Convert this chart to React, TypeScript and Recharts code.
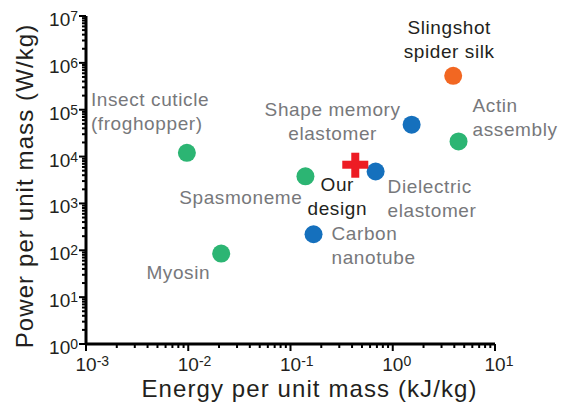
import React from "react";
import { ScatterChart, Scatter, XAxis, YAxis, Label } from "recharts";

// natural muscles / biological actuators (green)
const bioNames = ["Insect cuticle (froghopper)", "Myosin", "Spasmoneme", "Actin assembly"];
const bioEnergy = [0.0097, 0.021, 0.14, 4.4];
const bioPower = [12000, 85, 3800, 21000];

// artificial muscles (blue)
const synthNames = ["Shape memory elastomer", "Dielectric elastomer", "Carbon nanotube"];
const synthEnergy = [1.53, 0.68, 0.168];
const synthPower = [48000, 4800, 220];

// spider silk (orange)
const silkNames = ["Slingshot spider silk"];
const silkEnergy = [3.9];
const silkPower = [530000];

// this work (red cross)
const oursNames = ["Our design"];
const oursEnergy = [0.43];
const oursPower = [6700];

const xMajor = [0.001, 0.01, 0.1, 1, 10];
const yMajor = [1, 10, 100, 1e3, 1e4, 1e5, 1e6, 1e7];
const minorSteps = [2, 3, 4, 5, 6, 7, 8, 9];

const withMinor = (majors: number[]) => [
  ...majors,
  ...majors.slice(0, -1).flatMap((m) => minorSteps.map((k) => m * k)),
].sort((a, b) => a - b);

const xTicks = withMinor(xMajor);
const yTicks = withMinor(yMajor);

const toPoints = (names: string[], xs: number[], ys: number[]) =>
  names.map((name, i) => ({ name, x: xs[i], y: ys[i] }));

// where each annotation sits relative to its marker
const labelLayout: Record<string, { lines: string[]; anchor: string; dx: number; dy: number }> = {
  "Insect cuticle (froghopper)": { lines: ["Insect cuticle", "(froghopper)"], anchor: "start", dx: -96, dy: -47 },
  Myosin: { lines: ["Myosin"], anchor: "end", dx: -11, dy: 25 },
  Spasmoneme: { lines: ["Spasmoneme"], anchor: "end", dx: -3, dy: 28 },
  "Actin assembly": { lines: ["Actin", "assembly"], anchor: "start", dx: 14, dy: -29 },
  "Shape memory elastomer": { lines: ["Shape memory", "elastomer"], anchor: "middle", dx: -79, dy: -9 },
  "Dielectric elastomer": { lines: ["Dielectric", "elastomer"], anchor: "start", dx: 12, dy: 21 },
  "Carbon nanotube": { lines: ["Carbon", "nanotube"], anchor: "start", dx: 18, dy: 6 },
  "Slingshot spider silk": { lines: ["Slingshot", "spider silk"], anchor: "middle", dx: -4, dy: -42 },
  "Our design": { lines: ["Our", "design"], anchor: "middle", dx: -18, dy: 26 },
};

const FONT = "'Liberation Sans', Arial, Helvetica, sans-serif";
const INK = "#231f20";
const GREY = "#77787b";

const PointLabel = ({ cx, cy, name, color }: any) => {
  const l = labelLayout[name];
  if (!l) return null;
  return (
    <text
      x={cx + l.dx}
      y={cy + l.dy}
      textAnchor={l.anchor}
      fontSize={19}
      letterSpacing={0.6}
      fontFamily={FONT}
      fill={color}
    >
      {l.lines.map((line, i) => (
        <tspan key={i} x={cx + l.dx} dy={i === 0 ? 0 : 24}>
          {line}
        </tspan>
      ))}
    </text>
  );
};

const dot = (fill: string, labelColor: string) => (props: any) => {
  const { cx, cy, payload } = props;
  return (
    <g>
      <circle cx={cx} cy={cy} r={9} fill={fill} />
      <PointLabel cx={cx} cy={cy} name={payload.name} color={labelColor} />
    </g>
  );
};

const cross = (props: any) => {
  const { cx, cy, payload } = props;
  return (
    <g>
      <rect x={cx - 13} y={cy - 4} width={26} height={8} fill="#ed1c24" />
      <rect x={cx - 4} y={cy - 12} width={8} height={25} fill="#ed1c24" />
      <PointLabel cx={cx} cy={cy} name={payload.name} color={INK} />
    </g>
  );
};

const isMajor = (v: number) => Math.abs(Math.log10(v) - Math.round(Math.log10(v))) < 1e-6;

// "10" with a raised exponent, kept in one text element
const Power10 = ({ x, y, exp, anchor }: any) => (
  <text x={x} y={y} textAnchor={anchor} fontFamily={FONT} fill={INK} fontSize={19}>
    10
    <tspan dy={-5} fontSize={14}>{exp}</tspan>
  </text>
);

const XTick = (props: any) => {
  const { x, y, payload } = props;
  const major = isMajor(payload.value);
  const exp = Math.round(Math.log10(payload.value));
  return (
    <g>
      <line x1={x} x2={x} y1={y} y2={y + (major ? 7 : 4)} stroke="#000" strokeWidth={2} />
      {major && <Power10 x={x - 10.5} y={y + 27} exp={exp} anchor="start" />}
    </g>
  );
};

const YTick = (props: any) => {
  const { x, y, payload } = props;
  const major = isMajor(payload.value);
  const exp = Math.round(Math.log10(payload.value));
  return (
    <g>
      <line x1={x} x2={x - (major ? 7 : 4)} y1={y} y2={y} stroke="#000" strokeWidth={2} />
      {major && <Power10 x={x - 8} y={y + 10} exp={exp} anchor="end" />}
    </g>
  );
};

export default function App() {
  return (
    <div style={{ position: "absolute", left: 0, top: 0, background: "#fff" }}>
      <ScatterChart width={563} height={406} margin={{ top: 16, right: 68, bottom: 0, left: 0 }}>
        <XAxis
          type="number"
          dataKey="x"
          scale="log"
          domain={[0.001, 10]}
          ticks={xTicks}
          interval={0}
          height={62}
          axisLine={{ stroke: "#000", strokeWidth: 3 }}
          tickLine={false}
          tickSize={0}
          tickMargin={0}
          tick={<XTick />}
        >
          <Label
            content={(p: any) => {
              const vb = p.viewBox;
              return (
                <text
                  x={vb.x + vb.width / 2 + 19}
                  y={vb.y + 53}
                  textAnchor="middle"
                  fontSize={24}
                  letterSpacing={1.1}
                  fontFamily={FONT}
                  fill={INK}
                >
                  Energy per unit mass (kJ/kg)
                </text>
              );
            }}
          />
        </XAxis>
        <YAxis
          type="number"
          dataKey="y"
          scale="log"
          domain={[1, 1e7]}
          ticks={yTicks}
          interval={0}
          width={86}
          axisLine={{ stroke: "#000", strokeWidth: 3 }}
          tickLine={false}
          tickSize={0}
          tickMargin={0}
          tick={<YTick />}
        >
          <Label
            content={(p: any) => {
              const vb = p.viewBox;
              const cx = 33;
              const cy = vb.y + vb.height / 2 + 6;
              return (
                <text
                  x={cx}
                  y={cy}
                  transform={`rotate(-90, ${cx}, ${cy})`}
                  textAnchor="middle"
                  fontSize={24}
                  letterSpacing={1.1}
                  fontFamily={FONT}
                  fill={INK}
                >
                  Power per unit mass (W/kg)
                </text>
              );
            }}
          />
        </YAxis>
        <Scatter
          data={toPoints(bioNames, bioEnergy, bioPower)}
          shape={dot("#2cb573", GREY)}
          isAnimationActive={false}
        />
        <Scatter
          data={toPoints(synthNames, synthEnergy, synthPower)}
          shape={dot("#1570bd", GREY)}
          isAnimationActive={false}
        />
        <Scatter
          data={toPoints(silkNames, silkEnergy, silkPower)}
          shape={dot("#f26722", INK)}
          isAnimationActive={false}
        />
        <Scatter
          data={toPoints(oursNames, oursEnergy, oursPower)}
          shape={cross}
          isAnimationActive={false}
        />
      </ScatterChart>
    </div>
  );
}
